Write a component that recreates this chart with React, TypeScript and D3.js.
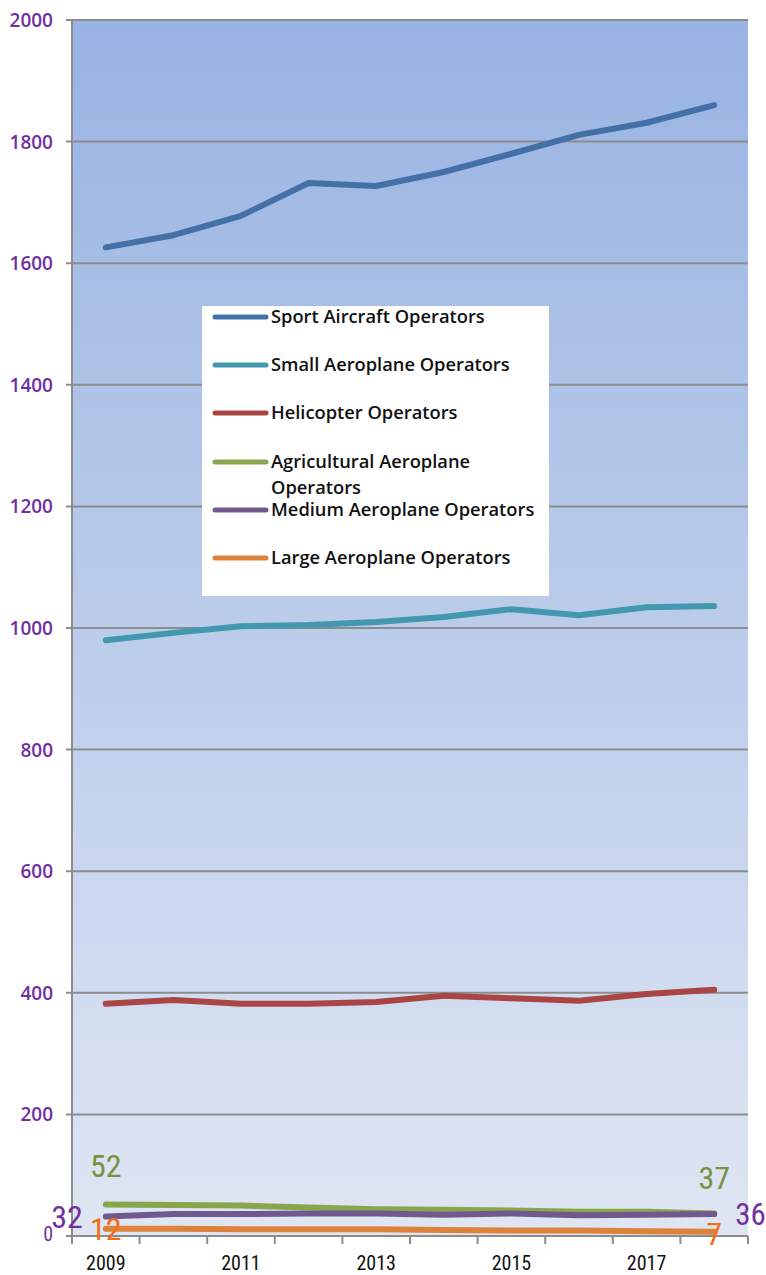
import React from "react";
import * as d3 from "d3";

const years = ["2009", "2010", "2011", "2012", "2013", "2014", "2015", "2016", "2017", "2018"];
const sportAircraft = [1626, 1646, 1678, 1732, 1727, 1750, 1780, 1811, 1831, 1860];
const smallAeroplane = [980, 992, 1003, 1005, 1010, 1018, 1031, 1021, 1034, 1036];
const helicopter = [382, 388, 382, 382, 385, 395, 391, 387, 398, 405];
const agricultural = [52, 51, 50, 47, 44, 43, 42, 40, 40, 37];
const mediumAeroplane = [32, 36, 36, 37, 37, 35, 37, 34, 35, 36];
const largeAeroplane = [12, 12, 11, 11, 11, 10, 9, 9, 8, 7];
const yTicks = [0, 200, 400, 600, 800, 1000, 1200, 1400, 1600, 1800, 2000];
const xLabelYears = ["2009", "2011", "2013", "2015", "2017"];

const series = [
  { name: "Sport Aircraft Operators", values: sportAircraft, color: "#4470A8" },
  { name: "Small Aeroplane Operators", values: smallAeroplane, color: "#4298AF" },
  { name: "Helicopter Operators", values: helicopter, color: "#A94543" },
  { name: "Agricultural Aeroplane Operators", values: agricultural, color: "#89A64D" },
  { name: "Medium Aeroplane Operators", values: mediumAeroplane, color: "#71598F" },
  { name: "Large Aeroplane Operators", values: largeAeroplane, color: "#DD823A" },
];

const narrow = "'Liberation Sans Narrow', 'Roboto Condensed', 'Arial Narrow', 'Liberation Sans', sans-serif";
const legendFont = "'Open Sans', sans-serif";

export default function App() {
  const left = 72, right = 748, top = 20, bottom = 1236;
  const x = d3.scaleBand<string>().domain(years).range([left, right]);
  const y = d3.scaleLinear().domain([0, 2000]).range([bottom, top]);
  const cx = (yr: string) => (x(yr) as number) + x.bandwidth() / 2;
  const line = d3
    .line<number>()
    .x((_, i) => cx(years[i]))
    .y((v) => y(v))
    .curve(d3.curveLinear);

  const boundaries = years.map((yr) => x(yr) as number).concat([right]);
  const first = years[0];
  const last = years[years.length - 1];
  const legendRows = [317, 365, 413, 462, 510, 558];

  return (
    <svg width={766} height={1275} style={{ display: "block", position: "absolute", left: 0, top: 0 }}>
      <defs>
        <linearGradient id="bg" x1="0" y1="0" x2="0" y2="1">
          <stop offset="0%" stopColor="#98B3E2" />
          <stop offset="100%" stopColor="#DFE6F3" />
        </linearGradient>
      </defs>
      <rect x={0} y={0} width={766} height={1275} fill="#fff" />
      <rect x={left} y={top} width={right - left} height={bottom - top} fill="url(#bg)" />
      {yTicks.map((t) => (
        <g key={t}>
          <line x1={left - 6} x2={right} y1={y(t)} y2={y(t)} stroke="#8C8C8C" strokeWidth={2} />
          {t === 0 ? (
            <text x={53} y={y(t) + 5} textAnchor="end" fill="#7030A0" fontFamily={narrow} fontSize={20}>
              {t}
            </text>
          ) : (
            <text x={53} y={y(t) + 7} textAnchor="end" fill="#7030A0" fontFamily={legendFont} fontWeight={600} fontSize={19}>
              {t}
            </text>
          )}
        </g>
      ))}
      <line x1={left} x2={left} y1={top} y2={bottom} stroke="#8C8C8C" strokeWidth={2} />
      {boundaries.map((b, i) => (
        <line key={i} x1={b} x2={b} y1={bottom} y2={bottom + 8} stroke="#8C8C8C" strokeWidth={2} />
      ))}
      {xLabelYears.map((yr) => (
        <text key={yr} x={cx(yr)} y={1270} textAnchor="middle" fill="#111" fontFamily={narrow} fontSize={20}>
          {yr}
        </text>
      ))}
      {series.map((s) => (
        <path
          key={s.name}
          d={line(s.values) as string}
          fill="none"
          stroke={s.color}
          strokeWidth={6}
          strokeLinecap="round"
          strokeLinejoin="round"
        />
      ))}
      {/* data labels */}
      <text x={cx(first)} y={y(agricultural[0]) - 27} textAnchor="middle" fill="#77933C" fontFamily={narrow} fontSize={32}>
        {agricultural[0]}
      </text>
      <text x={cx(last)} y={y(agricultural[9]) - 25} textAnchor="middle" fill="#77933C" fontFamily={narrow} fontSize={32}>
        {agricultural[9]}
      </text>
      <text x={cx(first) - 23} y={y(mediumAeroplane[0]) + 11} textAnchor="end" fill="#7030A0" fontFamily={narrow} fontSize={32}>
        {mediumAeroplane[0]}
      </text>
      <text x={cx(last) + 21} y={y(mediumAeroplane[9]) + 11} textAnchor="start" fill="#7030A0" fontFamily={narrow} fontSize={31}>
        {mediumAeroplane[9]}
      </text>
      <text x={cx(first)} y={y(largeAeroplane[0]) + 11} textAnchor="middle" fill="#EE6F17" fontFamily={narrow} fontSize={32}>
        {largeAeroplane[0]}
      </text>
      <text x={cx(last)} y={y(largeAeroplane[9]) + 13} textAnchor="middle" fill="#EE6F17" fontFamily={narrow} fontSize={32}>
        {largeAeroplane[9]}
      </text>
      {/* legend */}
      <rect x={202} y={306} width={347} height={290} fill="#fff" />
      {series.map((s, i) => (
        <g key={s.name}>
          <line x1={215} x2={266} y1={legendRows[i]} y2={legendRows[i]} stroke={s.color} strokeWidth={5} strokeLinecap="round" />
          {s.name === "Agricultural Aeroplane Operators" ? (
            <text fill="#111" fontFamily={legendFont} fontWeight={600} fontSize={18.3}>
              <tspan x={271} y={legendRows[i] + 6}>Agricultural Aeroplane</tspan>
              <tspan x={271} y={legendRows[i] + 32}>Operators</tspan>
            </text>
          ) : (
            <text x={271} y={legendRows[i] + 6} fill="#111" fontFamily={legendFont} fontWeight={600} fontSize={18.3}>
              {s.name}
            </text>
          )}
        </g>
      ))}
    </svg>
  );
}
